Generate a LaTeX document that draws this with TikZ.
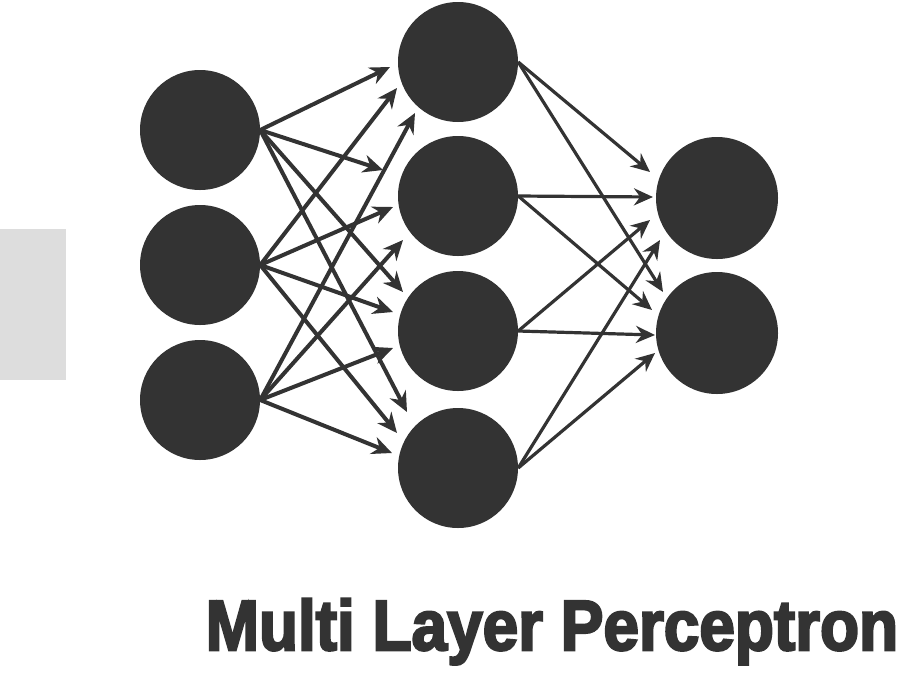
\documentclass[tikz,border=0pt]{standalone}
\usepackage{fontspec}
\setmainfont{Liberation Sans}
\newfontfamily\titlefont{Liberation Sans Bold}[FakeBold=3.5]
\usetikzlibrary{arrows.meta}
\definecolor{ink}{HTML}{333333}
\definecolor{panel}{HTML}{DDDDDD}
\tikzset{
  neuron/.style={circle,fill=ink,draw=none,minimum size=120pt,inner sep=0pt},
  conn/.style={draw=ink,line width=4pt,-{Stealth[length=20pt,width=18pt]}},
  conn2/.style={draw=ink,line width=3.2pt,-{Stealth[length=19pt,width=17pt]}}
}
\begin{document}
\begin{tikzpicture}[x=1pt,y=-1pt]
\useasboundingbox (0,0) rectangle (912,673);
\fill[panel] (0,229) rectangle (66,380);
% neurons
\node[neuron] (i1) at (200,130) {};
\node[neuron] (i2) at (200,265) {};
\node[neuron] (i3) at (200,400) {};
\node[neuron] (h1) at (458,62) {};
\node[neuron] (h2) at (458,196) {};
\node[neuron] (h3) at (458,331) {};
\node[neuron] (h4) at (458,468) {};
\node[neuron,minimum size=122pt] (o1) at (717,198) {};
\node[neuron,minimum size=122pt] (o2) at (717,333) {};
% arrow tips
\coordinate (t11) at (390,67);
\coordinate (t21) at (397,88);
\coordinate (t31) at (415,113);
\coordinate (t12) at (383,170);
\coordinate (t22) at (393,207);
\coordinate (t32) at (403,240);
\coordinate (t13) at (403,292);
\coordinate (t23) at (393,312);
\coordinate (t33) at (393,348);
\coordinate (t14) at (407,412);
\coordinate (t24) at (397,433);
\coordinate (t34) at (392,453);
\coordinate (u11) at (650,172);
\coordinate (u21) at (653,197);
\coordinate (u31) at (650,220);
\coordinate (u41) at (660,240);
\coordinate (u12) at (663,292);
\coordinate (u22) at (652,310);
\coordinate (u32) at (655,335);
\coordinate (u42) at (655,353);
% input -> hidden
\foreach \i in {1,2,3}{
  \foreach \h in {1,2,3,4}{
    \draw[conn] (i\i.east) -- (t\i\h);
  }
}
% hidden -> output
\foreach \h in {1,2,3,4}{
  \foreach \o in {1,2}{
    \draw[conn2] (h\h.east) -- (u\h\o);
  }
}
\node[text=ink,anchor=base,inner sep=0pt] (title) at (552,650)
  {\scalebox{0.9}[1]{\fontsize{71}{71}\selectfont\titlefont Multi Layer Perceptron}};
\end{tikzpicture}
\end{document}
